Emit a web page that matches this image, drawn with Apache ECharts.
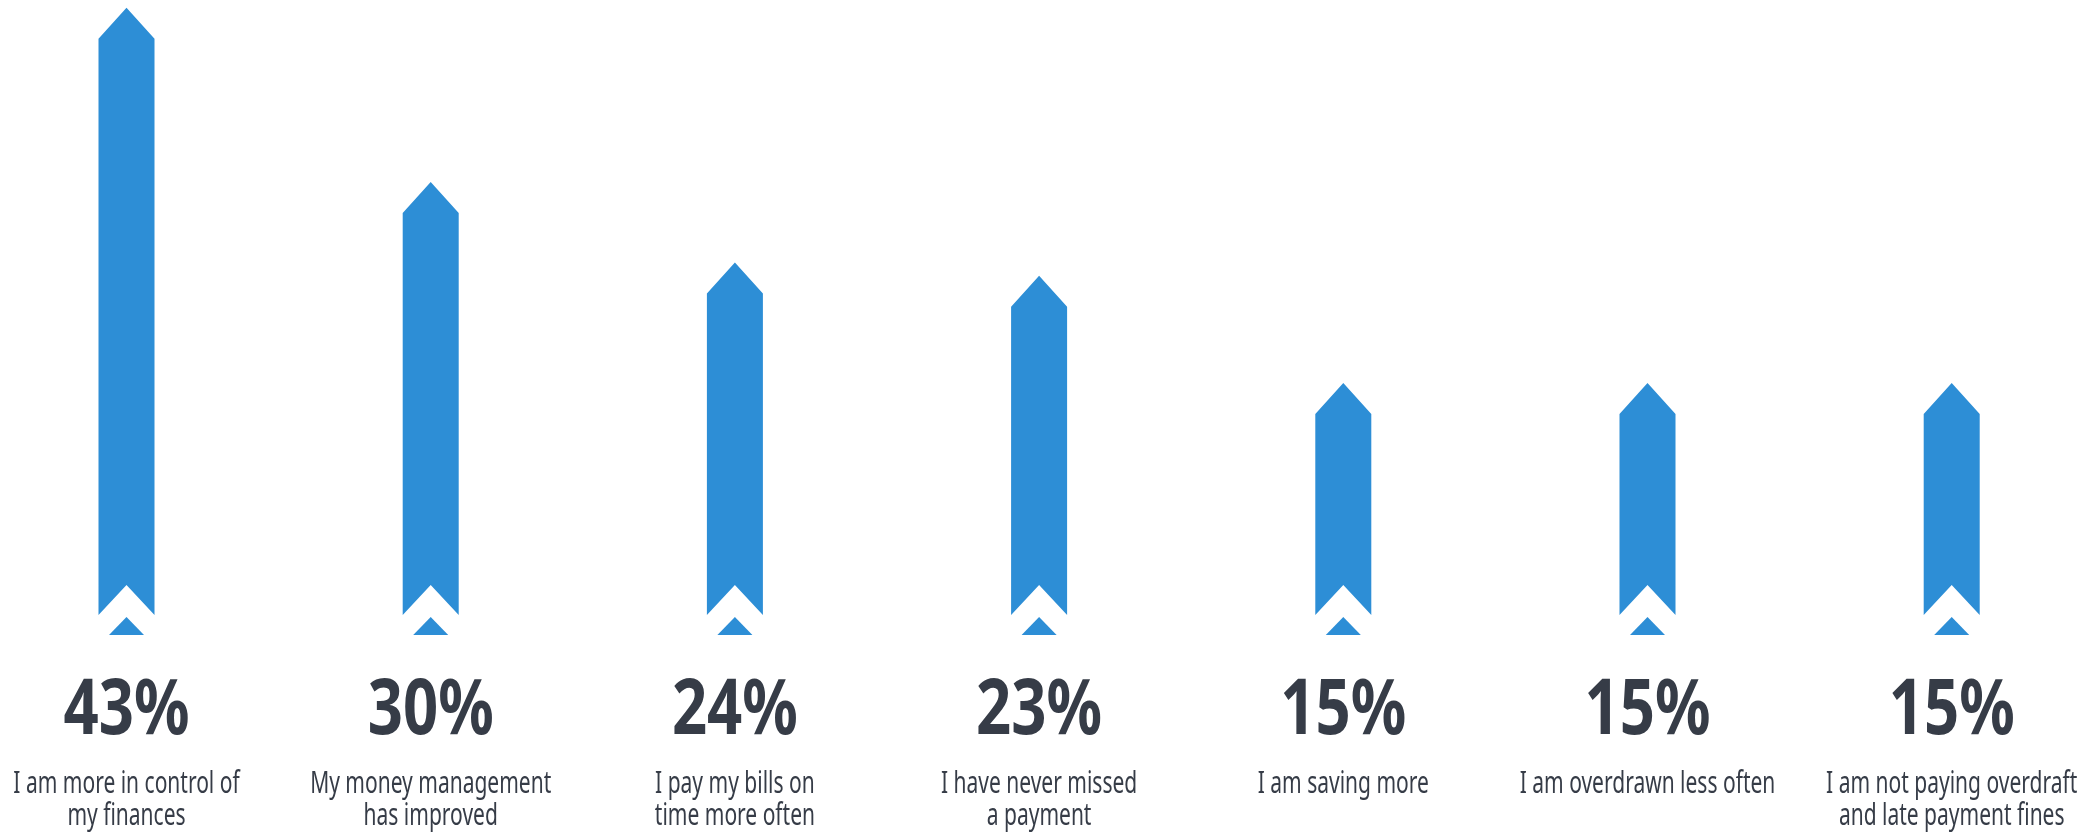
<!DOCTYPE html>
<html>
<head>
<meta charset="utf-8">
<script src="https://cdn.jsdelivr.net/npm/echarts@6/dist/echarts.min.js"></script>
<style>
  html, body { margin: 0; padding: 0; background: #ffffff; }
  #chart { width: 2098px; height: 835px; }
</style>
</head>
<body>
<div id="chart"></div>
<script>
const categories = [
  "I am more in control of\nmy finances",
  "My money management\nhas improved",
  "I pay my bills on\ntime more often",
  "I have never missed\na payment",
  "I am saving more",
  "I am overdrawn less often",
  "I am not paying overdraft\nand late payment fines"
];
const values = [43, 30, 24, 23, 15, 15, 15];
const valueSuffix = "%";

const BAR_COLOR = "#2d8ed6";
const TEXT_COLOR = "#363c47";
const FONT = "'Noto Sans', 'Open Sans', sans-serif";

const chart = echarts.init(document.getElementById("chart"), null, { renderer: "canvas" });

function renderItem(params, api) {
  const i = api.value(0);
  const v = api.value(1);
  const top = api.coord([i, v]);
  const base = api.coord([i, 0]);
  const x = top[0], ys = top[1], y0 = base[1];
  const hw = 28, tip = 31, notch = 30;
  return {
    type: "group",
    children: [
      {
        type: "polygon",
        shape: { points: [[x - hw, y0], [x - hw, ys], [x, ys - tip], [x + hw, ys], [x + hw, y0], [x, y0 - notch]] },
        style: { fill: BAR_COLOR }
      },
      {
        type: "polygon",
        shape: { points: [[x, y0 + 2], [x + 17.5, y0 + 20], [x - 17.5, y0 + 20]] },
        style: { fill: BAR_COLOR }
      },
      {
        type: "text",
        x: x, y: y0 + 97,
        scaleX: 0.8,
        style: {
          text: v + valueSuffix,
          fill: TEXT_COLOR,
          font: "bold 77px " + FONT,
          align: "center",
          verticalAlign: "middle"
        }
      },
      {
        type: "text",
        x: x, y: y0 + 153,
        scaleX: 0.7,
        style: {
          text: categories[i],
          fill: TEXT_COLOR,
          font: "30px " + FONT,
          lineHeight: 32,
          align: "center",
          verticalAlign: "top"
        }
      }
    ]
  };
}

chart.setOption({
  animation: false,
  backgroundColor: "#ffffff",
  grid: { left: 126.5, right: 146.3, top: 12, bottom: 220 },
  xAxis: { type: "value", min: 0, max: 6, show: false },
  yAxis: { type: "value", min: 0, max: 45, show: false },
  series: [{
    type: "custom",
    clip: false,
    renderItem: renderItem,
    data: values.map((v, i) => [i, v])
  }]
});
</script>
</body>
</html>
